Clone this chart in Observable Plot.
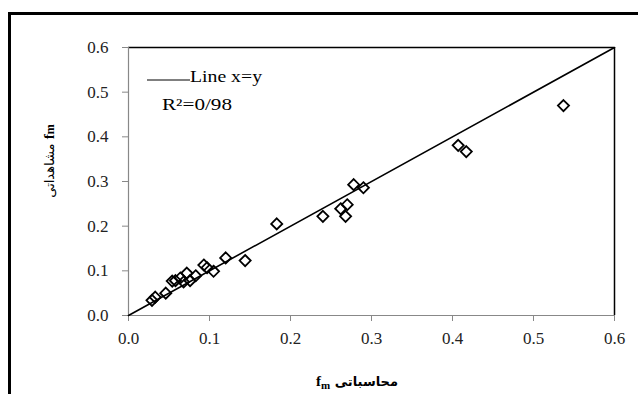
<!DOCTYPE html>
<html>
<head>
<meta charset="utf-8">
<script src="https://cdn.jsdelivr.net/npm/d3@7"></script>
<script src="https://cdn.jsdelivr.net/npm/@observablehq/plot@0.6"></script>
<style>
  html, body { margin: 0; padding: 0; background: #fff; overflow: hidden; }
  #wrap { position: relative; width: 638px; height: 394px; }
  #border { position: absolute; left: 8px; top: 12px; width: 700px; height: 500px;
            border-left: 3px solid #000; border-top: 3px solid #000; box-sizing: border-box; pointer-events: none; }
</style>
</head>
<body>
<div id="wrap"><div id="border"></div></div>
<script>
// Data
const calculated = [0.029, 0.033, 0.046, 0.054, 0.058, 0.064, 0.068, 0.072, 0.076, 0.083, 0.093, 0.097, 0.105, 0.120, 0.144, 0.183, 0.240, 0.262, 0.268, 0.270, 0.278, 0.290, 0.407, 0.417, 0.537];
const observed   = [0.034, 0.041, 0.050, 0.077, 0.078, 0.084, 0.075, 0.095, 0.078, 0.089, 0.113, 0.107, 0.099, 0.129, 0.123, 0.205, 0.222, 0.239, 0.222, 0.248, 0.293, 0.286, 0.381, 0.367, 0.470];
const ticks = [0, 0.1, 0.2, 0.3, 0.4, 0.5, 0.6];
const identityLine = [{v: 0}, {v: 0.6}];
const legendLabel = "Line x=y";
const r2Label = "R²=0/98";
const xTitleWord = "محاسباتی";
const yTitleWord = "مشاهداتی";

const points = calculated.map((c, i) => ({calc: c, obs: observed[i]}));

const serifCss = "'Liberation Serif', serif";
const arabicCss = "'DejaVu Sans', sans-serif";

const chart = Plot.plot({
  width: 638,
  height: 394,
  marginLeft: 128,
  marginRight: 24,
  marginTop: 47,
  marginBottom: 79,
  style: {fontFamily: "Liberation Serif, serif", fontSize: "17px", color: "#222", background: "transparent", overflow: "visible"},
  x: {domain: [0, 0.6], label: null},
  y: {domain: [0, 0.6], label: null},
  marks: [
    Plot.axisX({ticks: ticks, tickFormat: d3.format(".1f"), tickSize: 6, tickPadding: 10, stroke: "#888", fill: "#222", label: null}),
    Plot.axisY({ticks: ticks, tickFormat: d3.format(".1f"), tickSize: 6, tickPadding: 14, stroke: "#888", fill: "#222", label: null}),
    Plot.ruleY([0.6], {stroke: "#000", strokeWidth: 1.5}),
    Plot.ruleX([0.6], {stroke: "#000", strokeWidth: 1.5}),
    Plot.ruleX([0], {stroke: "#888", strokeWidth: 1.2}),
    Plot.ruleY([0], {stroke: "#888", strokeWidth: 1.2}),
    Plot.line(identityLine, {x: "v", y: "v", stroke: "#000", strokeWidth: 1.6}),
    Plot.dot(points, {x: "calc", y: "obs", symbol: "diamond2", r: 5, stroke: "#000", strokeWidth: 1.8, fill: "none"})
  ]
});

document.getElementById("wrap").prepend(chart);
chart.style.position = "absolute";
chart.style.left = "0px";
chart.style.top = "0px";

const svg = d3.select(chart);
svg.selectAll("[aria-label$='tick label'] text").style("font-family", serifCss);

// Legend
const lg = svg.append("g").style("font-family", serifCss).attr("fill", "#000").attr("text-anchor", "start");
lg.append("line").attr("x1", 147).attr("x2", 190).attr("y1", 80).attr("y2", 80)
  .attr("stroke", "#000").attr("stroke-width", 1);
lg.append("text").attr("x", 190).attr("y", 82).attr("font-size", 16)
  .attr("textLength", 72).attr("lengthAdjust", "spacingAndGlyphs").text(legendLabel);
lg.append("text").attr("x", 162).attr("y", 110).attr("font-size", 16)
  .attr("textLength", 70).attr("lengthAdjust", "spacingAndGlyphs").text(r2Label);

// X title
const xt = svg.append("text").attr("x", 357).attr("y", 386).attr("text-anchor", "middle")
  .style("font-family", serifCss).attr("font-weight", "bold").attr("fill", "#000")
  .attr("direction", "ltr");
xt.append("tspan").attr("font-size", 15).text("f");
xt.append("tspan").attr("font-size", 11).attr("dy", 3).text("m");
xt.append("tspan").attr("dy", -3).style("font-family", arabicCss).attr("font-size", 13).text(" " + xTitleWord);

// Y title
const yt = svg.append("text").attr("transform", "translate(54,161) rotate(-90)").attr("text-anchor", "middle")
  .style("font-family", serifCss).attr("fill", "#000").attr("direction", "ltr");
yt.append("tspan").style("font-family", arabicCss).attr("font-size", 13).text(yTitleWord + " ");
yt.append("tspan").attr("font-weight", "bold").attr("font-size", 15).text("f");
yt.append("tspan").attr("font-weight", "bold").attr("font-size", 12).text("m");
</script>
</body>
</html>
